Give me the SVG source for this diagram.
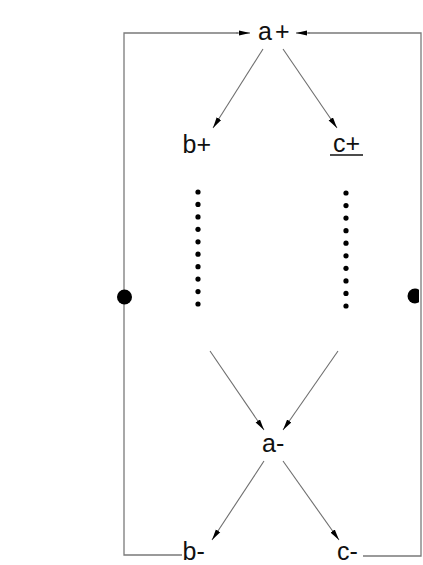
<svg xmlns="http://www.w3.org/2000/svg" width="423" height="565" viewBox="0 0 423 565">
  <style>
    .lbl { font-family: "Liberation Sans", Arial, sans-serif; font-size: 25px; fill: #111; }
    .wire { fill: none; stroke: #7a7a7a; stroke-width: 1.3; }
    .edge { fill: none; stroke: #6e6e6e; stroke-width: 1.1; marker-end: url(#head); }
    .dot { fill: #000; }
  </style>
  <defs>
    <marker id="head" markerUnits="userSpaceOnUse" markerWidth="12" markerHeight="6" refX="11" refY="3" orient="auto">
      <path d="M0,0.4 L11,3 L0,5.6 Z" fill="#000"/>
    </marker>
    <clipPath id="rightEdge">
      <rect x="0" y="0" width="419" height="565"/>
    </clipPath>
  </defs>

  <rect width="423" height="565" fill="#fff"/>

  <!-- connectors -->
  <g id="connectors">
    <!-- outer loop: left side into a+, right side into a+ -->
    <polyline class="wire" points="182,555 124,555 124,33 238,33"/>
    <line class="wire" x1="236" y1="33" x2="250" y2="33" marker-end="url(#head)"/>
    <polyline class="wire" points="363,556 421,556 421,33 308,33"/>
    <line class="wire" x1="310" y1="33" x2="296" y2="33" marker-end="url(#head)"/>

    <!-- a+ fans out -->
    <line class="edge" x1="263" y1="49" x2="213" y2="128"/>
    <line class="edge" x1="283" y1="49" x2="337" y2="128"/>

    <!-- converging into a- -->
    <line class="edge" x1="210" y1="351" x2="264" y2="430"/>
    <line class="edge" x1="338" y1="351" x2="283" y2="430"/>

    <!-- a- fans out -->
    <line class="edge" x1="264" y1="461" x2="212" y2="540"/>
    <line class="edge" x1="283" y1="461" x2="339" y2="540"/>

    <!-- continuation dots -->
    <g class="dot">
      <circle cx="198" cy="192" r="2.6"/>
      <circle cx="198" cy="204.4" r="2.6"/>
      <circle cx="198" cy="216.9" r="2.6"/>
      <circle cx="198" cy="229.3" r="2.6"/>
      <circle cx="198" cy="241.8" r="2.6"/>
      <circle cx="198" cy="254.2" r="2.6"/>
      <circle cx="198" cy="266.7" r="2.6"/>
      <circle cx="198" cy="279.1" r="2.6"/>
      <circle cx="198" cy="291.6" r="2.6"/>
      <circle cx="198" cy="304" r="2.6"/>

      <circle cx="346" cy="193" r="2.6"/>
      <circle cx="346" cy="205.6" r="2.6"/>
      <circle cx="346" cy="218.1" r="2.6"/>
      <circle cx="346" cy="230.7" r="2.6"/>
      <circle cx="346" cy="243.2" r="2.6"/>
      <circle cx="346" cy="255.8" r="2.6"/>
      <circle cx="346" cy="268.3" r="2.6"/>
      <circle cx="346" cy="280.9" r="2.6"/>
      <circle cx="346" cy="293.4" r="2.6"/>
      <circle cx="346" cy="306" r="2.6"/>
    </g>

    <!-- junction points on the loop -->
    <circle class="dot" cx="124.5" cy="297" r="7.5"/>
    <circle class="dot" cx="415" cy="296" r="7.5" clip-path="url(#rightEdge)"/>
  </g>

  <!-- nodes -->
  <g id="node-a-plus">
    <text class="lbl" x="258" y="40">a<tspan dx="3">+</tspan></text>
  </g>
  <g id="node-b-plus">
    <text class="lbl" x="182.5" y="153">b+</text>
  </g>
  <g id="node-c-plus">
    <text class="lbl" x="333" y="152">c+</text>
    <line x1="330" y1="155" x2="363" y2="155" stroke="#111" stroke-width="1.6"/>
  </g>
  <g id="node-a-minus">
    <text class="lbl" x="262" y="452">a-</text>
  </g>
  <g id="node-b-minus">
    <text class="lbl" x="182.5" y="560">b-</text>
  </g>
  <g id="node-c-minus">
    <text class="lbl" x="337" y="560">c-</text>
  </g>
</svg>
